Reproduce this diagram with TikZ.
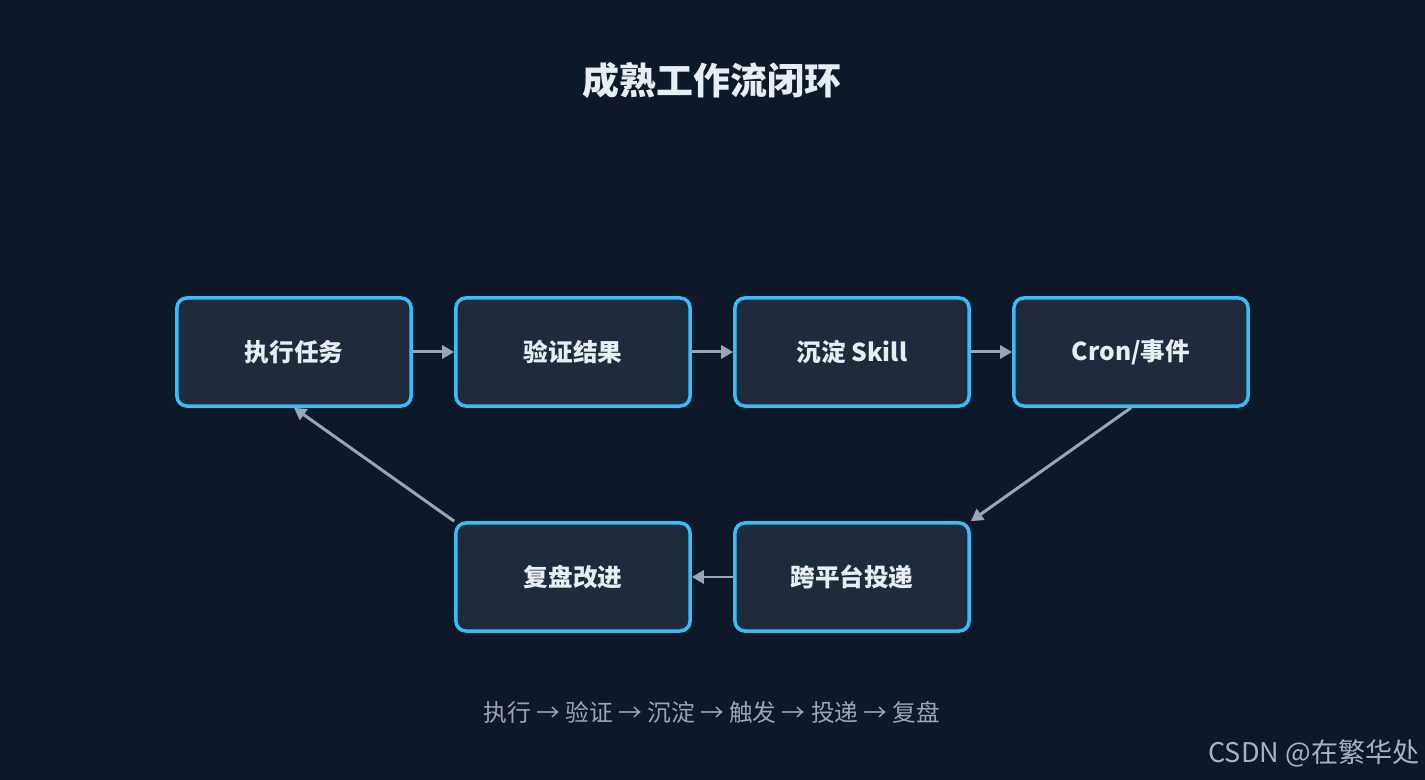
\documentclass[tikz,border=0pt]{standalone}
\usepackage{fontspec}
\newfontfamily\cjk{Noto Sans CJK SC}
\usepackage{xcolor}
\usetikzlibrary{arrows.meta,positioning}
\definecolor{bgcol}{HTML}{0D1829}
\definecolor{boxfill}{HTML}{1F2A3C}
\definecolor{boxline}{HTML}{38BDF8}
\definecolor{arrcol}{HTML}{9AA6B8}
\definecolor{txtcol}{HTML}{E6EDF3}
\definecolor{subcol}{HTML}{9AA5B5}
\tikzset{
  stage/.style={draw=boxline,fill=boxfill,line width=1pt,rounded corners=0.1cm,
    minimum width=2.34cm,minimum height=1.08cm,text=txtcol,font=\cjk\bfseries\fontsize{7}{8}\selectfont},
  flow/.style={draw=arrcol,line width=0.85pt,-{Triangle[length=1.2mm,width=1.3mm]}},
  ttl/.style={text=txtcol,font=\cjk\bfseries\fontsize{10.5}{12}\selectfont},
  note/.style={text=subcol,font=\cjk\fontsize{6.75}{8}\selectfont},
  wmark/.style={text=subcol!85!white,inner sep=0pt,font=\cjk\fontsize{7.7}{9}\selectfont}
}
\begin{document}
\begin{tikzpicture}[x=0.01cm,y=-0.01cm]
\fill[bgcol] (0,0) rectangle (1425,780);
\useasboundingbox (0,0) rectangle (1425,780);
\node[ttl] (title) at (712,80) {成熟工作流闭环};
% top row
\node[stage] (exec) at (294,352) {执行任务};
\node[stage] (check) at (573,352) {验证结果};
\node[stage] (skill) at (852,352) {沉淀 Skill};
\node[stage] (cron) at (1131,352) {Cron/事件};
% bottom row
\node[stage] (deliv) at (852,577) {跨平台投递};
\node[stage] (review) at (573,577) {复盘改进};
\draw[flow] (exec.east) -- (check.west);
\draw[flow] (check.east) -- (skill.west);
\draw[flow] (skill.east) -- (cron.west);
\draw[flow] (cron.south) -- (deliv.north east);
\draw[flow] (deliv.west) -- (review.east);
\draw[flow] (review.north west) -- (exec.south);
\node[note] (loop) at (712,712) {执行 → 验证 → 沉淀 → 触发 → 投递 → 复盘};
\node[wmark,anchor=east] (wm) at (1420,753) {CSDN @在繁华处};
\end{tikzpicture}
\end{document}
